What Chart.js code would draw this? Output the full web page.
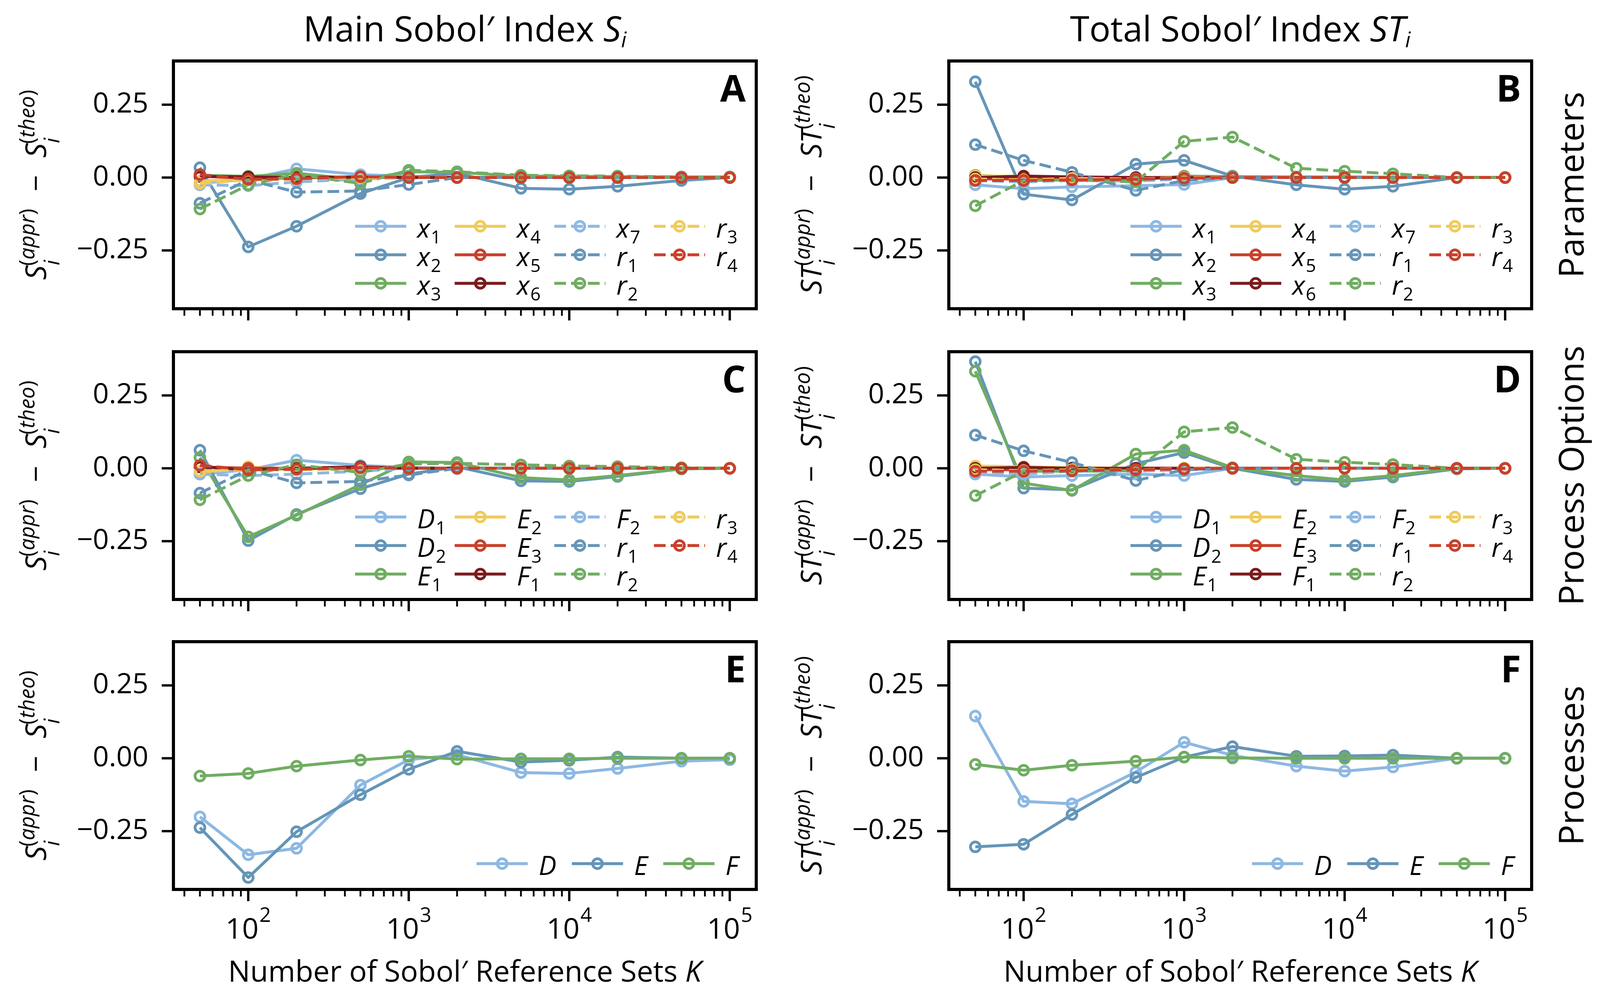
<!DOCTYPE html>
<html><head><meta charset="utf-8">
<script src="https://cdn.jsdelivr.net/npm/chart.js@4.4.0/dist/chart.umd.min.js"></script>
<style>
html,body{margin:0;padding:0;background:#fff;}
#wrap{position:relative;width:4100px;height:2541px;overflow:hidden;background:#fff;font-family:"Open Sans",sans-serif;color:#000;}
canvas{position:absolute;}
.txt{position:absolute;white-space:nowrap;line-height:1;z-index:5;font-family:"Open Sans",sans-serif;}
.txt sub{font-size:0.6em;vertical-align:-0.28em;line-height:0;}
.sb{font-size:54px;vertical-align:-34px;line-height:0;}
.sp{font-size:54px;vertical-align:30px;margin-left:-15px;line-height:0;}
.mn{margin:0 44px;}
</style></head><body><div id="wrap"></div>
<script>
// ---------------- data ----------------
const K = [50, 100, 200, 500, 1000, 2000, 5000, 10000, 20000, 50000, 100000];

const paramNames   = ['x_1','x_2','x_3','x_4','x_5','x_6','x_7','r_1','r_2','r_3','r_4'];
const optionNames  = ['D_1','D_2','E_1','E_2','E_3','F_1','F_2','r_1','r_2','r_3','r_4'];
const processNames = ['D','E','F'];

// Panel A: main index, parameters (rows follow paramNames)
const mainParams = [
  [-0.020, -0.005,  0.030,  0.010,  0.005, 0.000,  0.000,  0.000,  0.000,  0.000, 0.000],
  [ 0.034, -0.238, -0.167, -0.055,  0.000, 0.015, -0.037, -0.040, -0.030, -0.010, 0.000],
  [ 0.008,  0.004,  0.015, -0.008,  0.020, 0.018,  0.005,  0.004,  0.003,  0.002, 0.002],
  [-0.012, -0.005, -0.003,  0.003,  0.000, 0.000,  0.000,  0.000,  0.000,  0.000, 0.000],
  [ 0.005, -0.003,  0.000,  0.001,  0.000, 0.000,  0.000,  0.000,  0.000,  0.000, 0.000],
  [ 0.004,  0.002,  0.000,  0.002,  0.000, 0.000,  0.000,  0.000,  0.000,  0.000, 0.000],
  [-0.025, -0.028, -0.015, -0.005,  0.000, 0.000,  0.000,  0.000,  0.000,  0.000, 0.000],
  [-0.088, -0.008, -0.050, -0.046, -0.024, 0.000,  0.000,  0.000,  0.000,  0.000, 0.000],
  [-0.108, -0.025,  0.010, -0.020,  0.025, 0.020,  0.008,  0.006,  0.005,  0.002, 0.002],
  [-0.020, -0.008, -0.005,  0.000,  0.000, 0.000,  0.000,  0.000,  0.000,  0.000, 0.000],
  [ 0.010, -0.006, -0.004,  0.003,  0.000, 0.000,  0.000,  0.000,  0.000,  0.000, 0.000]
];
// Panel B: total index, parameters
const totalParams = [
  [-0.025, -0.038, -0.032, -0.028, -0.024, 0.000,  0.000,  0.000,  0.000, 0.000, 0.000],
  [ 0.329, -0.057, -0.077,  0.046,  0.059, 0.005, -0.025, -0.040, -0.030, 0.000, 0.000],
  [ 0.008,  0.000,  0.000, -0.010,  0.005, 0.003,  0.002,  0.002,  0.001, 0.000, 0.000],
  [ 0.006,  0.004,  0.002,  0.000,  0.000, 0.000,  0.000,  0.000,  0.000, 0.000, 0.000],
  [-0.005, -0.005, -0.003, -0.002,  0.000, 0.000,  0.000,  0.000,  0.000, 0.000, 0.000],
  [ 0.000,  0.005,  0.002,  0.000,  0.000, 0.000,  0.000,  0.000,  0.000, 0.000, 0.000],
  [-0.010, -0.015, -0.010, -0.012, -0.005, 0.000,  0.000,  0.000,  0.000, 0.000, 0.000],
  [ 0.113,  0.059,  0.018, -0.044, -0.010, 0.000,  0.000,  0.000,  0.000, 0.000, 0.000],
  [-0.097, -0.010, -0.008, -0.015,  0.124, 0.139,  0.032,  0.022,  0.013, 0.000, 0.000],
  [-0.005, -0.008, -0.003, -0.005,  0.000, 0.000,  0.000,  0.000,  0.000, 0.000, 0.000],
  [-0.010, -0.010, -0.008, -0.006, -0.002, 0.000,  0.000,  0.000,  0.000, 0.000, 0.000]
];
// Panel C: main index, process options (rows follow optionNames)
const mainOptions = [
  [-0.020, -0.005,  0.028,  0.010,  0.003, 0.000,  0.000,  0.000,  0.000,  0.000, 0.000],
  [ 0.062, -0.248, -0.158, -0.070, -0.020, 0.005, -0.043, -0.045, -0.028, -0.002, 0.000],
  [ 0.037, -0.235, -0.161, -0.056,  0.022, 0.020, -0.032, -0.040, -0.025, -0.002, 0.000],
  [-0.015,  0.005, -0.005,  0.005,  0.000, 0.000,  0.000,  0.000,  0.000,  0.000, 0.000],
  [ 0.005,  0.000,  0.000,  0.000,  0.000, 0.000,  0.000,  0.000,  0.000,  0.000, 0.000],
  [ 0.005, -0.005,  0.000,  0.005,  0.000, 0.000,  0.000,  0.000,  0.000,  0.000, 0.000],
  [-0.020, -0.025, -0.020, -0.010,  0.000, 0.000,  0.000,  0.000,  0.000,  0.000, 0.000],
  [-0.085, -0.005, -0.050, -0.045, -0.023, 0.000,  0.000,  0.000,  0.000,  0.000, 0.000],
  [-0.108, -0.025,  0.012, -0.014,  0.015, 0.017,  0.012,  0.008,  0.006,  0.002, 0.000],
  [-0.010, -0.005, -0.005,  0.000,  0.000, 0.000,  0.000,  0.000,  0.000,  0.000, 0.000],
  [ 0.010, -0.005, -0.003,  0.002,  0.000, 0.000,  0.000,  0.000,  0.000,  0.000, 0.000]
];
// Panel D: total index, process options
const totalOptions = [
  [-0.020, -0.030, -0.025, -0.020, -0.025, 0.000,  0.000,  0.000,  0.000,  0.000, 0.000],
  [ 0.366, -0.068, -0.074,  0.016,  0.054, 0.000, -0.038, -0.045, -0.030, -0.002, 0.000],
  [ 0.333, -0.051, -0.076,  0.049,  0.062, 0.002, -0.025, -0.040, -0.025,  0.000, 0.000],
  [ 0.008,  0.005,  0.002,  0.000,  0.000, 0.000,  0.000,  0.000,  0.000,  0.000, 0.000],
  [-0.005, -0.005, -0.003,  0.000,  0.000, 0.000,  0.000,  0.000,  0.000,  0.000, 0.000],
  [ 0.000,  0.003,  0.000,  0.000,  0.000, 0.000,  0.000,  0.000,  0.000,  0.000, 0.000],
  [-0.010, -0.020, -0.010, -0.010, -0.005, 0.000,  0.000,  0.000,  0.000,  0.000, 0.000],
  [ 0.114,  0.060,  0.020, -0.042, -0.005, 0.000,  0.000,  0.000,  0.000,  0.000, 0.000],
  [-0.094, -0.010, -0.010, -0.008,  0.125, 0.140,  0.031,  0.021,  0.013,  0.000, 0.000],
  [-0.005, -0.008, -0.005, -0.005,  0.000, 0.000,  0.000,  0.000,  0.000,  0.000, 0.000],
  [-0.010, -0.010, -0.008, -0.005, -0.002, 0.000,  0.000,  0.000,  0.000,  0.000, 0.000]
];
// Panel E: main index, processes (rows follow processNames)
const mainProcesses = [
  [-0.201, -0.331, -0.309, -0.092, -0.005, 0.012, -0.049, -0.052, -0.035, -0.010, -0.005],
  [-0.238, -0.409, -0.252, -0.125, -0.038, 0.024, -0.013, -0.007,  0.004,  0.000,  0.000],
  [-0.061, -0.052, -0.027, -0.006,  0.007, -0.003, -0.002, -0.002, 0.000,  0.000,  0.000]
];
// Panel F: total index, processes
const totalProcesses = [
  [ 0.145, -0.148, -0.156, -0.047, 0.055, 0.010, -0.027, -0.044, -0.030, 0.000, 0.000],
  [-0.304, -0.295, -0.193, -0.066, 0.004, 0.040,  0.007,  0.008,  0.011, 0.000, 0.000],
  [-0.021, -0.041, -0.024, -0.010, 0.004, 0.001,  0.000,  0.000,  0.000, 0.000, 0.000]
];

// tick values / labels
const yTicks = [-0.25, 0, 0.25];
const yTickLabels = ['\u22120.25', '0.00', '0.25'];
const xMajorTicks = [100, 1000, 10000, 100000];
const xTickBase = '10';
const xTickExponents = ['2', '3', '4', '5'];
const xMinorTicks = [40,50,60,70,80,90, 200,300,400,500,600,700,800,900,
                     2000,3000,4000,5000,6000,7000,8000,9000,
                     20000,30000,40000,50000,60000,70000,80000,90000];

// ---------------- styles / layout ----------------
const LB = '#8DB8E2', MB = '#6595B8', GR = '#70AD62', YE = '#EFCB5B', RD = '#C9402C', DR = '#7B1B1E';
const styles11 = [
  {c: LB, d: false}, {c: MB, d: false}, {c: GR, d: false}, {c: YE, d: false}, {c: RD, d: false}, {c: DR, d: false},
  {c: LB, d: true}, {c: MB, d: true}, {c: GR, d: true}, {c: YE, d: true}, {c: RD, d: true}
];
const styles3 = [{c: LB, d: false}, {c: MB, d: false}, {c: GR, d: false}];

const PW = 1492, PH = 634;
const colLeft = [444, 2429];
const rowTop = [156, 900, 1642];
const PADL = 320, PADT = 40, PADR = 40, PADB = 200;
const XMIN = Math.pow(10, 1.53392), XMAX = Math.pow(10, 5.16505);
const LW = 7.5, DASH = [30, 13];

const wrap = document.getElementById('wrap');
Chart.defaults.font.family = '"Open Sans", sans-serif';

function makePanel(col, row, values, names, sty, legend, showXLabels) {
  const cw = PW + PADL + PADR, ch = PH + PADT + PADB;
  const c = document.createElement('canvas');
  c.width = cw; c.height = ch;
  c.style.left = (colLeft[col] - PADL) + 'px';
  c.style.top = (rowTop[row] - PADT) + 'px';
  c.style.width = cw + 'px'; c.style.height = ch + 'px';
  wrap.appendChild(c);
  const n = values.length;
  const datasets = values.map((vals, i) => ({
    label: names[i],
    data: K.map((k, j) => ({x: k, y: vals[j]})),
    borderColor: sty[i].c, borderWidth: LW, borderDash: sty[i].d ? DASH : [],
    borderJoinStyle: 'round',
    pointRadius: 12.5, pointHoverRadius: 12.5, pointBorderWidth: 7,
    pointBorderColor: sty[i].c, pointBackgroundColor: 'rgba(0,0,0,0)',
    fill: false, tension: 0, order: n - i
  }));
  const deco = {
    id: 'deco' + col + row,
    afterDraw(chart) {
      const ctx = chart.ctx, a = chart.chartArea, xs = chart.scales.x, ys = chart.scales.y;
      ctx.save();
      ctx.strokeStyle = '#000'; ctx.fillStyle = '#000'; ctx.setLineDash([]);
      // x ticks
      xMinorTicks.forEach(v => {
        const px = xs.getPixelForValue(v);
        ctx.lineWidth = 4.5; ctx.beginPath(); ctx.moveTo(px, a.bottom); ctx.lineTo(px, a.bottom + 18); ctx.stroke();
      });
      xMajorTicks.forEach((v, i) => {
        const px = xs.getPixelForValue(v);
        ctx.lineWidth = 6; ctx.beginPath(); ctx.moveTo(px, a.bottom); ctx.lineTo(px, a.bottom + 30); ctx.stroke();
        if (!showXLabels) return;
        ctx.font = '74px "Open Sans"';
        const w1 = ctx.measureText(xTickBase).width;
        ctx.font = '52px "Open Sans"';
        const w2 = ctx.measureText(xTickExponents[i]).width;
        const x0 = px - (w1 + w2 + 2) / 2;
        ctx.textAlign = 'left'; ctx.textBaseline = 'alphabetic';
        ctx.font = '74px "Open Sans"'; ctx.fillText(xTickBase, x0, a.bottom + 126);
        ctx.font = '52px "Open Sans"'; ctx.fillText(xTickExponents[i], x0 + w1 + 2, a.bottom + 83);
      });
      // y ticks
      yTicks.forEach(v => {
        const py = ys.getPixelForValue(v);
        ctx.lineWidth = 6; ctx.beginPath(); ctx.moveTo(a.left, py); ctx.lineTo(a.left - 30, py); ctx.stroke();
      });
      // frame
      ctx.lineWidth = 8; ctx.strokeRect(a.left, a.top, a.right - a.left, a.bottom - a.top);
      // legend
      names.forEach((nm, i) => {
        const colI = Math.floor(i / legend.rows.length), rowI = i % legend.rows.length;
        const x0 = a.left + legend.cols[colI], y = a.top + legend.rows[rowI];
        ctx.strokeStyle = sty[i].c; ctx.lineWidth = LW;
        ctx.setLineDash(sty[i].d ? DASH : []);
        ctx.beginPath(); ctx.moveTo(x0, y); ctx.lineTo(x0 + 131, y); ctx.stroke();
        ctx.setLineDash([]);
        ctx.lineWidth = 7;
        ctx.beginPath(); ctx.arc(x0 + 65.5, y, 12.5, 0, Math.PI * 2); ctx.stroke();
        const parts = nm.split('_');
        ctx.fillStyle = '#000'; ctx.textAlign = 'left'; ctx.textBaseline = 'alphabetic';
        ctx.font = 'italic 68px "Open Sans"';
        ctx.fillText(parts[0], x0 + 159, y + 29);
        if (parts[1]) {
          const w = ctx.measureText(parts[0]).width;
          ctx.font = '46px "Open Sans"';
          ctx.fillText(parts[1], x0 + 159 + w + 2, y + 44);
        }
      });
      ctx.restore();
    }
  };
  new Chart(c, {
    type: 'line',
    data: {datasets},
    options: {
      responsive: false, maintainAspectRatio: false, animation: false, events: [],
      layout: {padding: {left: 0, top: PADT, right: PADR, bottom: 0}},
      plugins: {legend: {display: false}, tooltip: {enabled: false}, title: {display: false}},
      scales: {
        x: {
          type: 'logarithmic', min: XMIN, max: XMAX,
          afterBuildTicks: s => { s.ticks = xMajorTicks.map(v => ({value: v})); },
          afterFit: s => { s.height = PADB; s.paddingLeft = 0; s.paddingRight = 0; },
          ticks: {display: false},
          grid: {display: false, drawTicks: false}, border: {display: false}
        },
        y: {
          type: 'linear', min: -0.45, max: 0.40,
          afterBuildTicks: s => { s.ticks = yTicks.map(v => ({value: v})); },
          afterFit: s => { s.width = PADL; s.paddingTop = 0; s.paddingBottom = 0; },
          ticks: {font: {family: '"Open Sans"', size: 72}, color: '#000', padding: 64,
                  callback: (v) => yTickLabels[yTicks.indexOf(v)]},
          grid: {display: false, drawTicks: false}, border: {display: false}
        }
      }
    },
    plugins: [deco]
  });
}

const legend11 = {cols: [465, 720, 975, 1230], rows: [423, 496, 569]};
const legend3 = {cols: [776, 1020, 1254], rows: [568]};

makePanel(0, 0, mainParams, paramNames, styles11, legend11, false);
makePanel(1, 0, totalParams, paramNames, styles11, legend11, false);
makePanel(0, 1, mainOptions, optionNames, styles11, legend11, false);
makePanel(1, 1, totalOptions, optionNames, styles11, legend11, false);
makePanel(0, 2, mainProcesses, processNames, styles3, legend3, true);
makePanel(1, 2, totalProcesses, processNames, styles3, legend3, true);

// ---------------- text ----------------
function addDiv(html, css) {
  const d = document.createElement('div'); d.className = 'txt'; d.innerHTML = html;
  Object.assign(d.style, css); wrap.appendChild(d); return d;
}
const colCenter = [colLeft[0] + PW / 2, colLeft[1] + PW / 2];
addDiv('Main Sobol\u2032 Index <i>S</i><sub><i>i</i></sub>', {left: colCenter[0] + 'px', top: '26px', fontSize: '90px', transform: 'translateX(-50%)'});
addDiv('Total Sobol\u2032 Index <i>ST</i><sub><i>i</i></sub>', {left: colCenter[1] + 'px', top: '26px', fontSize: '90px', transform: 'translateX(-50%)'});
[0, 1].forEach(c => addDiv('Number of Sobol\u2032 Reference Sets <i>K</i>', {left: colCenter[c] + 'px', top: '2446px', fontSize: '75px', transform: 'translateX(-50%)'}));

const letters = [['A', 'B'], ['C', 'D'], ['E', 'F']];
rowTop.forEach((t, r) => {
  [0, 1].forEach(c => {
    addDiv(letters[r][c], {left: (colLeft[c] + PW - 27) + 'px', top: (t + 20) + 'px', fontSize: '95px', fontWeight: '700', transform: 'translateX(-100%)'});
  });
});
const rowNames = ['Parameters', 'Process Options', 'Processes'];
rowTop.forEach((t, r) => addDiv(rowNames[r], {left: '4020px', top: (t + PH / 2) + 'px', fontSize: '88px', transform: 'translate(-50%,-50%) rotate(-90deg)'}));

function ylab(sym) {
  return '<i>' + sym + '</i><span class="sb"><i>i</i></span><span class="sp">(<i>appr</i>)</span>' +
         '<span class="mn">\u2212</span>' +
         '<i>' + sym + '</i><span class="sb"><i>i</i></span><span class="sp">(<i>theo</i>)</span>';
}
const ylabX = [92, 2077];
rowTop.forEach(t => {
  addDiv(ylab('S'), {left: ylabX[0] + 'px', top: (t + PH / 2) + 'px', fontSize: '74px', transform: 'translate(-50%,-50%) rotate(-90deg)'});
  addDiv(ylab('ST'), {left: ylabX[1] + 'px', top: (t + PH / 2) + 'px', fontSize: '74px', transform: 'translate(-50%,-50%) rotate(-90deg)'});
});
</script></body></html>
